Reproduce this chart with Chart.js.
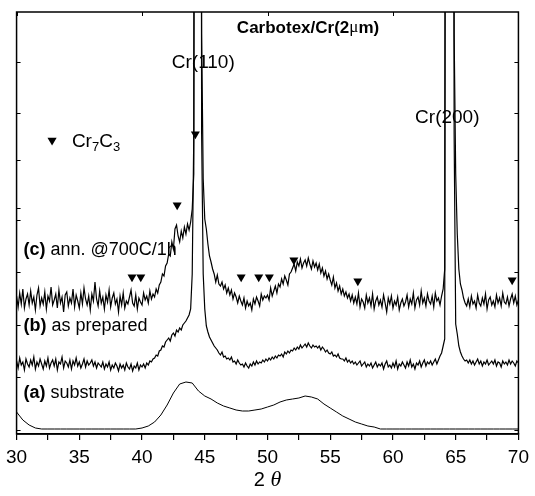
<!DOCTYPE html>
<html><head><meta charset="utf-8">
<script src="https://cdn.jsdelivr.net/npm/chart.js@4.4.0/dist/chart.umd.min.js"></script>
<style>html,body{margin:0;padding:0;background:#fff;}canvas{display:block;}</style>
</head><body>
<canvas id="c" width="535" height="496"></canvas>
<script>
// ---- data (2θ grid, intensities in arbitrary units) ----
const twoThetaStart = 30;
const twoThetaStep = 0.125;   // sampling step of traces (b) and (c)
const substrateStep = 0.5;    // sampling step of trace (a)

// (c) annealed @700C/1h
const annealed = [
138,127,141,130,145,126,135,140,
129,143,131,137,124,139,146,128,
136,130,142,125,138,133,147,129,
134,140,126,144,131,137,122,139,
142,128,136,131,145,127,139,133,
126,141,130,146,135,129,138,124,
140,133,152,135,128,143,131,137,
125,139,132,144,127,136,141,130,
135,122,138,129,141,126,133,130,
137,144,131,128,139,125,136,132,
129,141,134,138,131,143,135,140,
137,145,141,149,152,160,158,168,
171,180,178,192,185,205,209,198,
192,203,196,207,200,210,204,212,
225,260,1500,1500,1500,1500,400,255,
215,205,190,178,172,165,160,152,
159,150,148,152,145,149,141,146,
139,144,135,141,137,131,138,133,
129,136,126,133,128,131,124,135,
130,137,133,128,140,134,138,136,
139,134,146,138,143,148,141,150,
147,155,150,158,154,149,160,162,
166,170,163,172,168,175,166,171,
174,168,176,170,165,173,167,171,
164,170,161,166,158,163,155,160,
154,149,157,146,151,143,148,140,
145,138,142,136,140,133,139,131,
137,130,141,127,135,132,126,139,
131,136,128,140,125,133,137,129,
134,127,139,131,122,136,130,138,
126,133,129,137,124,131,135,128,
132,139,127,135,130,141,126,134,
137,129,143,131,136,128,140,133,
130,138,127,141,133,136,129,138,
145,165,1500,1500,1500,1500,1500,400,
260,200,165,150,144,136,131,128,
135,127,138,130,133,126,139,131,
128,136,130,140,125,134,137,129,
133,127,139,131,136,128,141,132,
130,137,128,135,140,131,138,129,
134];

// (b) as prepared
const asPrepared = [
73,66,76,69,72,64,75,70,
67,74,69,77,65,72,68,75,
70,65,73,68,76,66,71,74,
68,75,64,72,70,77,66,73,
71,67,74,65,73,69,76,68,
72,66,70,75,67,73,69,71,
74,68,72,66,71,69,67,72,
65,70,67,72,64,69,66,71,
68,63,70,66,69,64,71,67,
65,70,63,68,66,71,64,69,
67,70,66,71,69,73,72,75,
76,79,78,83,84,88,87,92,
94,96,93,99,101,98,104,102,
106,104,109,111,113,116,119,125,
160,300,1500,1500,1500,1500,300,160,
125,108,102,97,94,91,88,86,
84,81,79,82,77,78,75,76,
74,77,72,73,70,74,71,69,
70,67,71,68,66,70,68,72,
69,73,70,72,71,74,72,75,
73,76,74,77,75,78,76,79,
78,80,77,82,80,83,81,84,
83,86,84,87,85,89,86,88,
90,87,91,88,86,89,87,88,
86,88,84,87,85,82,84,81,
80,82,78,79,77,80,76,75,
75,73,76,72,74,71,73,70,
72,69,71,73,68,70,72,67,
70,68,71,66,69,72,67,70,
68,71,65,70,73,67,69,66,
71,67,73,65,70,68,72,69,
66,72,68,74,67,70,65,71,
69,73,67,71,74,68,72,70,
73,69,72,75,70,74,78,81,
88,95,1500,1500,1500,1500,1500,300,
110,100,88,82,78,75,73,74,
71,74,70,73,69,72,75,70,
73,68,72,70,74,69,71,73,
70,74,68,72,71,67,73,70,
72,69,74,70,73,71,68,73,
71];

// (a) substrate
const substrate = [
22,14,9,6,
5,5,5,5,5,5,5,5,5,5,5,5,5,5,5,5,
6,8,12,19,29,41,50,52,51,43,38,35,31,28,26,24,23,23,24,25,
27,29,32,34,35,36,38,37,35,30,26,22,18,15,12,10,8,7,
5,5,5,5,5,5,5,5,5,5,5,5,5,5,5,5,5,5,5,5,5,5,5];

// Cr7C3 reflections marked with ▼
const carbideTheta     = [39.2, 39.9, 42.8, 44.25, 47.9, 49.3, 50.15, 52.1, 57.2, 69.5];
const carbideIntensity = [157, 157, 229, 300, 157, 157, 157, 174, 153, 154];

const xTickLabels = [30, 35, 40, 45, 50, 55, 60, 65, 70];
const yFrameTicks = [4, 57, 109, 162, 214, 226, 274, 321, 372];
const topFrameTicks = [30, 40, 50, 60, 70];

// ---- build datasets ----
const toPts = (arr, step) => arr.map((v, i) => ({x: twoThetaStart + i * step, y: v}));
const SANS = '"Liberation Sans", Arial, Helvetica, sans-serif';

const lineStyle = {borderColor: '#000', borderWidth: 1, pointRadius: 0, tension: 0, fill: false};
const noisyStyle = {borderColor: '#000', borderWidth: 1.2, pointRadius: 0, tension: 0, fill: false};

const overlay = {
  id: 'overlay',
  afterDatasetsDraw(chart) {
    const {ctx, chartArea: a, scales: {x, y}} = chart;
    ctx.save();
    ctx.strokeStyle = '#000';
    ctx.lineWidth = 1.5;
    ctx.strokeRect(a.left, a.top, a.right - a.left, a.bottom - a.top);
    ctx.lineWidth = 1;
    ctx.beginPath();
    yFrameTicks.forEach(v => {
      const py = Math.round(y.getPixelForValue(v)) + 0.5;
      ctx.moveTo(a.left, py); ctx.lineTo(a.left + 4, py);
      ctx.moveTo(a.right, py); ctx.lineTo(a.right - 4, py);
    });
    topFrameTicks.forEach(v => {
      const px = Math.round(x.getPixelForValue(v)) + 0.5;
      ctx.moveTo(px, a.top); ctx.lineTo(px, a.top + 4);
    });
    ctx.stroke();

    ctx.fillStyle = '#000';
    ctx.textBaseline = 'middle';
    function parts(list, px, py, align) {
      let w = 0;
      list.forEach(p => { ctx.font = p.f; w += ctx.measureText(p.t).width; });
      let cx = align === 'center' ? px - w / 2 : px;
      ctx.textAlign = 'left';
      list.forEach(p => { ctx.font = p.f; ctx.fillText(p.t, cx, py + (p.dy || 0)); cx += ctx.measureText(p.t).width; });
    }
    const X = v => x.getPixelForValue(v), Y = v => y.getPixelForValue(v);

    parts([{t: 'Carbotex/Cr(2', f: 'bold 17px ' + SANS}, {t: 'μ', f: '17px "Liberation Serif", serif'}, {t: 'm)', f: 'bold 17px ' + SANS}], X(53.23), Y(406), 'center');
    parts([{t: 'Cr(110)', f: '19px ' + SANS}], X(44.88), Y(371), 'center');
    parts([{t: 'Cr(200)', f: '19px ' + SANS}], X(64.33), Y(316), 'center');

    // legend marker for Cr7C3
    const lx = X(32.83), ly = Y(293);
    ctx.beginPath();
    ctx.moveTo(lx - 4.6, ly - 3.2); ctx.lineTo(lx + 4.6, ly - 3.2); ctx.lineTo(lx, ly + 4.6); ctx.closePath(); ctx.fill();
    parts([{t: 'Cr', f: '19px ' + SANS}, {t: '7', f: '13px ' + SANS, dy: 5}, {t: 'C', f: '19px ' + SANS}, {t: '3', f: '13px ' + SANS, dy: 5}], X(34.41), Y(292), 'left');

    parts([{t: '(c)', f: 'bold 18px ' + SANS}, {t: ' ann. @700C/1h', f: '18px ' + SANS}], X(30.55), Y(184), 'left');
    parts([{t: '(b)', f: 'bold 18px ' + SANS}, {t: ' as prepared', f: '18px ' + SANS}], X(30.55), Y(108), 'left');
    parts([{t: '(a)', f: 'bold 18px ' + SANS}, {t: ' substrate', f: '18px ' + SANS}], X(30.55), Y(41), 'left');

    // x axis title 2θ
    parts([{t: '2', f: '20px ' + SANS}, {t: ' θ', f: 'italic 22px "Liberation Serif", serif'}], (a.left + a.right) / 2, 480, 'center');
    ctx.restore();
  }
};

new Chart(document.getElementById('c'), {
  type: 'line',
  data: {
    datasets: [
      Object.assign({label: '(a) substrate', data: toPts(substrate, substrateStep)}, lineStyle),
      Object.assign({label: '(b) as prepared', data: toPts(asPrepared, twoThetaStep)}, noisyStyle),
      Object.assign({label: '(c) ann. @700C/1h', data: toPts(annealed, twoThetaStep)}, noisyStyle),
      {label: 'Cr7C3', data: carbideTheta.map((t, i) => ({x: t, y: carbideIntensity[i]})), showLine: false,
       pointStyle: 'triangle', rotation: 180, pointRadius: 5.2, backgroundColor: '#000', borderColor: '#000', borderWidth: 0}
    ]
  },
  options: {
    responsive: false,
    animation: false,
    events: [],
    layout: {padding: {left: 0, right: 13, top: 12, bottom: 0}},
    plugins: {legend: {display: false}, tooltip: {enabled: false}},
    scales: {
      x: {
        type: 'linear', min: 30, max: 70,
        ticks: {stepSize: 2.5, autoSkip: false, maxRotation: 0, color: '#000', padding: 6,
                font: {family: SANS, size: 19},
                callback: v => xTickLabels.includes(v) ? String(v) : ''},
        grid: {drawOnChartArea: false, tickLength: 6, color: '#000', lineWidth: 1.2},
        border: {display: true, color: '#000', width: 1.5},
        afterFit: s => { s.height = 62; }
      },
      y: {
        min: 0, max: 422,
        ticks: {display: false},
        grid: {display: false},
        border: {display: false},
        afterFit: s => { s.width = 14; }
      }
    }
  },
  plugins: [overlay]
});
</script>
</body></html>
